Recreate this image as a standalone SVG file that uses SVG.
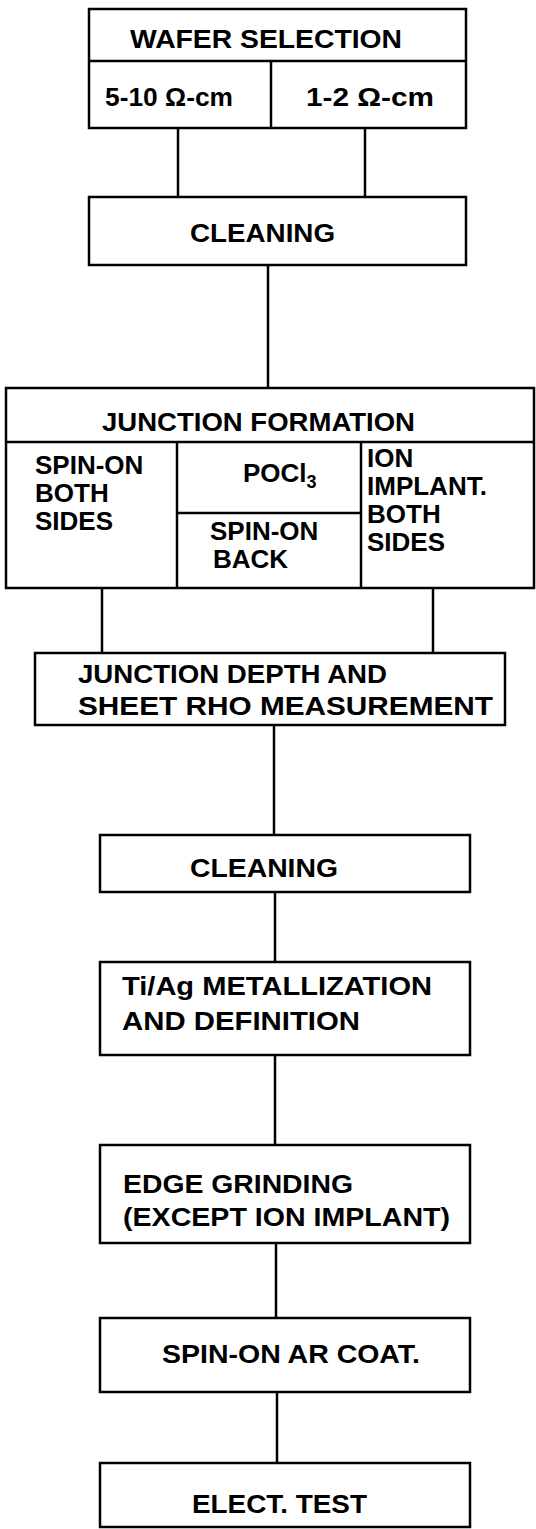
<svg xmlns="http://www.w3.org/2000/svg" width="536" height="1529" viewBox="0 0 536 1529">
<style>
.box{fill:#fff;stroke:#000;stroke-width:2.5}
.ln{stroke:#000;stroke-width:2.5;fill:none}
text{font-family:"Liberation Sans",Arial,sans-serif;font-weight:bold;font-size:26px;fill:#000}
</style>
<rect x="0" y="0" width="536" height="1529" fill="#fff"/>
<g id="connectors">
<line class="ln" x1="178" y1="128" x2="178" y2="197"/>
<line class="ln" x1="365" y1="128" x2="365" y2="197"/>
<line class="ln" x1="268" y1="265" x2="268" y2="388"/>
<line class="ln" x1="102" y1="588" x2="102" y2="653"/>
<line class="ln" x1="433" y1="588" x2="433" y2="653"/>
<line class="ln" x1="274" y1="725" x2="274" y2="835"/>
<line class="ln" x1="275" y1="892" x2="275" y2="962"/>
<line class="ln" x1="275" y1="1055" x2="275" y2="1145"/>
<line class="ln" x1="276" y1="1243" x2="276" y2="1318"/>
<line class="ln" x1="277" y1="1392" x2="277" y2="1463"/>
</g>
<g id="wafer-selection">
<rect class="box" x="89" y="9" width="377" height="119"/>
<line class="ln" x1="89" y1="61" x2="466" y2="61"/>
<line class="ln" x1="271" y1="61" x2="271" y2="128"/>
<text x="130" y="48" textLength="272" lengthAdjust="spacingAndGlyphs">WAFER SELECTION</text>
<text x="105" y="106" textLength="128" lengthAdjust="spacingAndGlyphs">5-10 Ω-cm</text>
<text x="306" y="106" textLength="128" lengthAdjust="spacingAndGlyphs">1-2 Ω-cm</text>
</g>
<g id="cleaning-1">
<rect class="box" x="89" y="197" width="377" height="68"/>
<text x="190" y="242" textLength="145" lengthAdjust="spacingAndGlyphs">CLEANING</text>
</g>
<g id="junction-formation">
<rect class="box" x="6" y="388" width="528" height="200"/>
<line class="ln" x1="6" y1="442" x2="534" y2="442"/>
<line class="ln" x1="177" y1="442" x2="177" y2="588"/>
<line class="ln" x1="361" y1="442" x2="361" y2="588"/>
<line class="ln" x1="177" y1="513" x2="361" y2="513"/>
<text x="102" y="431" textLength="313" lengthAdjust="spacingAndGlyphs">JUNCTION FORMATION</text>
<text x="35" y="474">SPIN-ON</text>
<text x="35" y="502">BOTH</text>
<text x="35" y="530">SIDES</text>
<text x="243" y="482">POCl<tspan font-size="18" dy="6">3</tspan></text>
<text x="210" y="540">SPIN-ON</text>
<text x="213" y="568">BACK</text>
<text x="367" y="467">ION</text>
<text x="367" y="495">IMPLANT.</text>
<text x="367" y="523">BOTH</text>
<text x="367" y="551">SIDES</text>
</g>
<g id="junction-depth">
<rect class="box" x="35" y="653" width="470" height="72"/>
<text x="78" y="683" textLength="309" lengthAdjust="spacingAndGlyphs">JUNCTION DEPTH AND</text>
<text x="78" y="715" textLength="415" lengthAdjust="spacingAndGlyphs">SHEET RHO MEASUREMENT</text>
</g>
<g id="cleaning-2">
<rect class="box" x="100" y="835" width="370" height="57"/>
<text x="190" y="877" textLength="148" lengthAdjust="spacingAndGlyphs">CLEANING</text>
</g>
<g id="metallization">
<rect class="box" x="100" y="962" width="370" height="93"/>
<text x="122" y="995" textLength="310" lengthAdjust="spacingAndGlyphs">Ti/Ag METALLIZATION</text>
<text x="122" y="1030" textLength="238" lengthAdjust="spacingAndGlyphs">AND DEFINITION</text>
</g>
<g id="edge-grinding">
<rect class="box" x="100" y="1145" width="370" height="98"/>
<text x="123" y="1193" textLength="230" lengthAdjust="spacingAndGlyphs">EDGE GRINDING</text>
<text x="123" y="1226" textLength="327" lengthAdjust="spacingAndGlyphs">(EXCEPT ION IMPLANT)</text>
</g>
<g id="ar-coat">
<rect class="box" x="100" y="1318" width="370" height="74"/>
<text x="162" y="1363" textLength="258" lengthAdjust="spacingAndGlyphs">SPIN-ON AR COAT.</text>
</g>
<g id="elect-test">
<rect class="box" x="100" y="1463" width="370" height="64"/>
<text x="192" y="1513" textLength="175" lengthAdjust="spacingAndGlyphs">ELECT. TEST</text>
</g>
</svg>
